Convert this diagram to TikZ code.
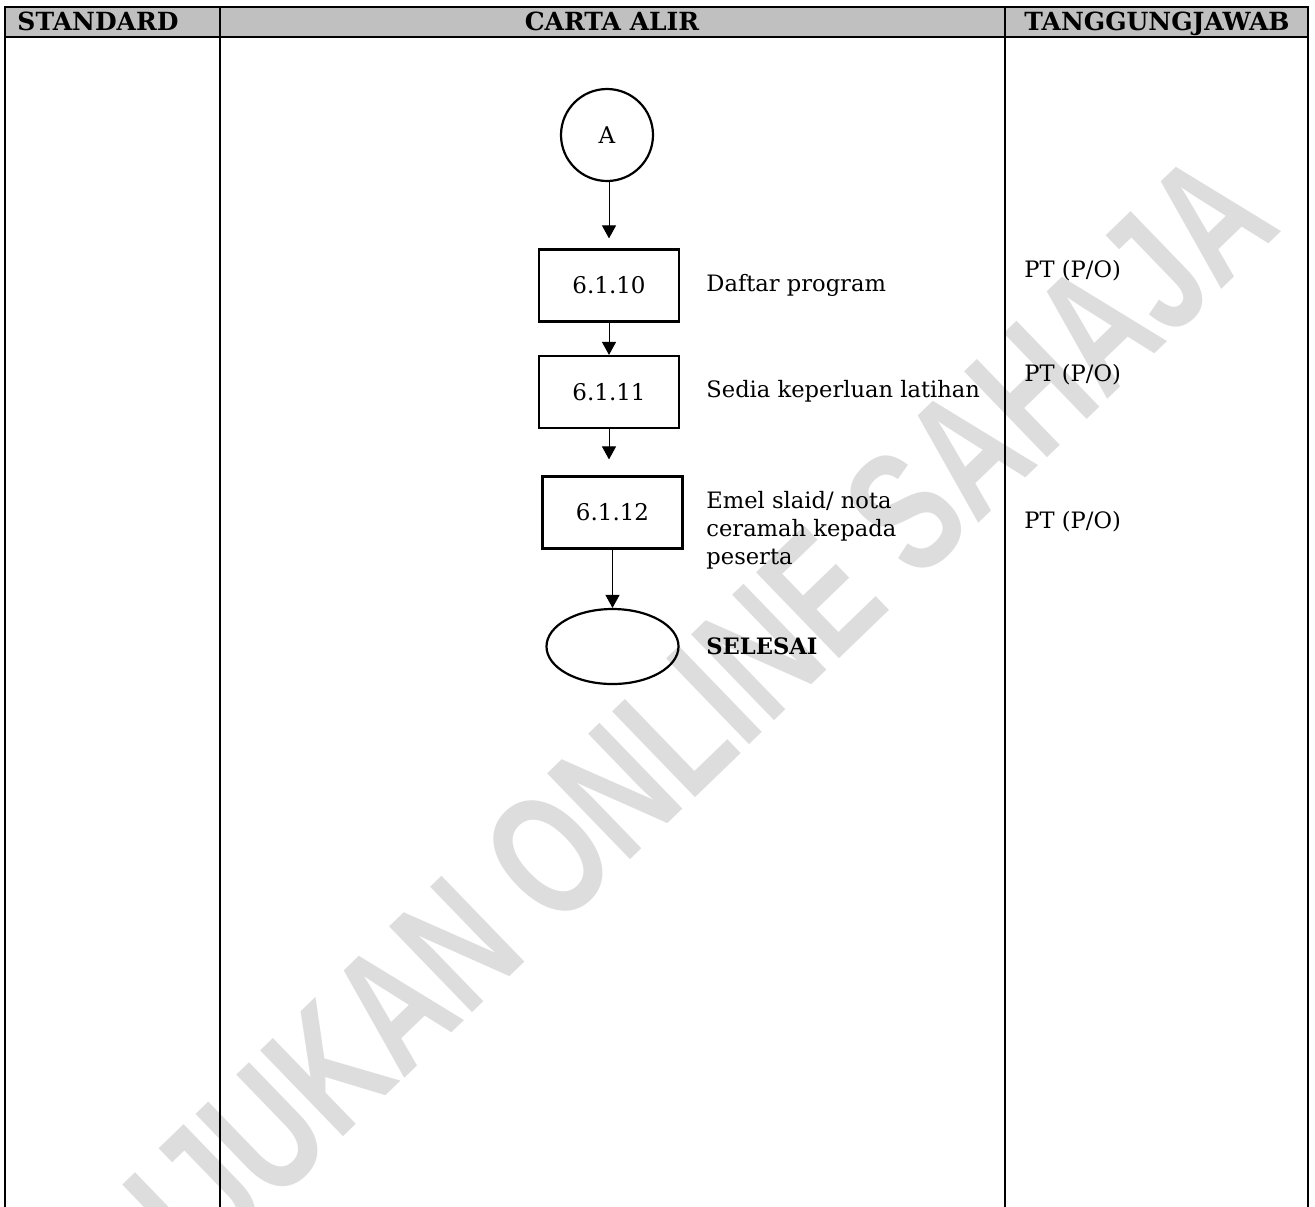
\documentclass[tikz,border=0pt]{standalone}
\usepackage{fontspec}
\setmainfont{DejaVu Serif}
\setsansfont{Liberation Sans}
\usepackage{tikz}
\usetikzlibrary{shapes.geometric,arrows.meta,positioning}
\definecolor{headgray}{RGB}{192,192,192}
\definecolor{markgray}{RGB}{221,221,221}

\begin{document}
\begin{tikzpicture}[
    x=0.5pt, y=-0.5pt,
    head/.style={anchor=base, font=\bfseries\fontsize{12.5}{14}\selectfont},
    box/.style={draw, line width=1.1pt, minimum width=70pt, minimum height=36pt, font=\fontsize{11.5}{13}\selectfont},
    conn/.style={draw, circle, line width=1.1pt, minimum size=46pt, font=\fontsize{11.5}{13}\selectfont},
    term/.style={draw, ellipse, line width=1.1pt, minimum width=66pt, minimum height=37.5pt},
    lbl/.style={anchor=base west, align=left, inner sep=0pt, font=\fontsize{11.3}{14}\selectfont},
    arr/.style={-{Triangle[length=6.5pt,width=7pt]}, line width=0.5pt}
]
\useasboundingbox (0,0) rectangle (1315,1206);

% watermark
\node[rotate=44, inner sep=0pt, text=markgray, font=\sffamily\bfseries\fontsize{62}{62}\selectfont] (mark) at (648,760) {\scalebox{1}[1.4]{RUJUKAN ONLINE SAHAJA}};

% table
\fill[headgray] (5,7) rectangle (1308,37);
\draw[line width=1pt] (5,1215) -- (5,7) -- (1308,7) -- (1308,1215);
\draw[line width=1pt] (5,37) -- (1308,37);
\draw[line width=1pt] (220,7) -- (220,1215);
\draw[line width=1pt] (1005,7) -- (1005,1215);

\node[head] (hstd) at (98,30) {STANDARD};
\node[head] (hcarta) at (612,30) {CARTA ALIR};
\node[head] (htj) at (1157,30) {TANGGUNGJAWAB};

% flow
\node[conn] (A) at (607,135) {A};
\node[box] (b10) at (609,285.5) {6.1.10};
\node[box] (b11) at (609,392) {6.1.11};
\node[box] (b12) at (612.5,512.5) {6.1.12};
\node[term] (end) at (612.5,646.5) {};

\draw[arr, shorten >=5pt] (A.south -| b10.north) -- (b10);
\draw[arr] (b10) -- (b11);
\draw[arr, shorten >=8pt] (b11.south) -- (b11.south |- b12.north);
\draw[arr] (b12) -- (end);

\node[lbl] (t10) at (706,291) {Daftar program};
\node[lbl] (t11) at (706,397) {Sedia keperluan latihan};
\node[lbl] (t12) at (706,564) {Emel slaid/ nota\\ceramah kepada\\peserta};
\node[lbl, font=\bfseries\fontsize{11.3}{14}\selectfont] (tend) at (706,654) {SELESAI};

\node[lbl] (p10) at (1024,277) {PT (P/O)};
\node[lbl] (p11) at (1024,381) {PT (P/O)};
\node[lbl] (p12) at (1024,528) {PT (P/O)};
\end{tikzpicture}
\end{document}
